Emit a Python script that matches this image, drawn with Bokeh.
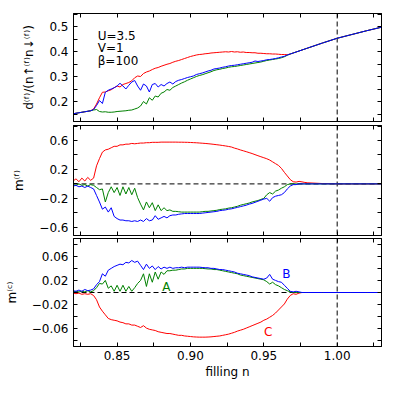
from bokeh.plotting import figure
from bokeh.layouts import column
from bokeh.models import Range1d, FixedTicker, Span, Label, LinearAxis, CustomJSTickFormatter
from bokeh.embed import file_html
from bokeh.resources import INLINE

filling = [0.820, 0.822, 0.824, 0.826, 0.828, 0.830, 0.832, 0.834, 0.836, 0.838,
           0.840, 0.842, 0.844, 0.846, 0.848, 0.850, 0.852, 0.854, 0.856, 0.858,
           0.860, 0.862, 0.864, 0.866, 0.868, 0.870, 0.872, 0.874, 0.876, 0.878,
           0.880, 0.882, 0.884, 0.886, 0.888, 0.890, 0.892, 0.894, 0.896, 0.898,
           0.900, 0.902, 0.904, 0.906, 0.908, 0.910, 0.912, 0.914, 0.916, 0.918,
           0.920, 0.922, 0.924, 0.926, 0.928, 0.930, 0.932, 0.934, 0.936, 0.938,
           0.940, 0.942, 0.944, 0.946, 0.948, 0.950, 0.952, 0.954, 0.956, 0.958,
           0.960, 0.962, 0.964, 0.966, 0.968, 0.970, 0.972, 0.974, 0.976, 0.978,
           0.980, 0.990, 1.000, 1.010, 1.020, 1.030]

# panel 1: d^(f) / (n_up n_down)
d_red = [0.151, 0.153, 0.155, 0.157, 0.159, 0.161, 0.163, 0.170, 0.190, 0.215,
         0.237, 0.238, 0.243, 0.247, 0.255, 0.262, 0.258, 0.268, 0.272, 0.276,
         0.283, 0.295, 0.302, 0.300, 0.312, 0.318, 0.322, 0.328, 0.333, 0.336,
         0.341, 0.345, 0.349, 0.352, 0.357, 0.361, 0.364, 0.368, 0.372, 0.376,
         0.380, 0.383, 0.386, 0.388, 0.389, 0.391, 0.392, 0.394, 0.395, 0.396,
         0.397, 0.398, 0.399, 0.398, 0.400, 0.398, 0.399, 0.397, 0.398, 0.396,
         0.396, 0.395, 0.395, 0.393, 0.393, 0.392, 0.391, 0.391, 0.390, 0.390,
         0.389, 0.388, 0.388, 0.387, 0.390, 0.394, 0.398, 0.402, 0.406, 0.410,
         0.414, 0.434, 0.453, 0.468, 0.483, 0.497]
d_blue = [0.151, 0.153, 0.155, 0.157, 0.159, 0.161, 0.163, 0.168, 0.184, 0.204,
          0.192, 0.237, 0.245, 0.250, 0.255, 0.262, 0.273, 0.262, 0.250, 0.265,
          0.278, 0.284, 0.262, 0.245, 0.270, 0.262, 0.238, 0.268, 0.272, 0.258,
          0.268, 0.262, 0.272, 0.278, 0.270, 0.280, 0.285, 0.288, 0.292, 0.296,
          0.299, 0.302, 0.308, 0.311, 0.314, 0.318, 0.322, 0.325, 0.330, 0.332,
          0.334, 0.337, 0.339, 0.342, 0.344, 0.345, 0.347, 0.349, 0.351, 0.353,
          0.355, 0.357, 0.362, 0.360, 0.362, 0.364, 0.367, 0.368, 0.370, 0.372,
          0.375, 0.378, 0.381, 0.386, 0.390, 0.394, 0.398, 0.402, 0.406, 0.410,
          0.414, 0.434, 0.453, 0.468, 0.483, 0.497]
d_green = [0.151, 0.153, 0.155, 0.157, 0.159, 0.161, 0.163, 0.166, 0.168, 0.160,
           0.158, 0.159, 0.157, 0.157, 0.158, 0.160, 0.161, 0.162, 0.163, 0.165,
           0.166, 0.170, 0.174, 0.182, 0.200, 0.190, 0.215, 0.205, 0.222, 0.218,
           0.233, 0.238, 0.248, 0.245, 0.256, 0.262, 0.268, 0.274, 0.279, 0.285,
           0.290, 0.295, 0.300, 0.304, 0.307, 0.311, 0.315, 0.319, 0.324, 0.327,
           0.329, 0.332, 0.334, 0.337, 0.339, 0.340, 0.342, 0.344, 0.346, 0.348,
           0.350, 0.352, 0.354, 0.356, 0.358, 0.361, 0.364, 0.366, 0.368, 0.370,
           0.372, 0.375, 0.379, 0.385, 0.390, 0.394, 0.398, 0.402, 0.406, 0.410,
           0.414, 0.434, 0.453, 0.468, 0.483, 0.497]

# panel 2: m^(f)
mf_red = [0.04, 0.07, 0.03, 0.08, 0.04, 0.09, 0.05, 0.08, 0.25, 0.35,
          0.44, 0.47, 0.48, 0.50, 0.52, 0.52, 0.54, 0.54, 0.55, 0.55,
          0.56, 0.555, 0.56, 0.565, 0.565, 0.57, 0.57, 0.575, 0.575, 0.575,
          0.578, 0.578, 0.578, 0.578, 0.578, 0.578, 0.577, 0.577, 0.576, 0.575,
          0.573, 0.571, 0.569, 0.566, 0.563, 0.560, 0.556, 0.552, 0.547, 0.542,
          0.537, 0.531, 0.525, 0.518, 0.510, 0.495, 0.484, 0.470, 0.458, 0.446,
          0.433, 0.420, 0.405, 0.390, 0.376, 0.362, 0.348, 0.330, 0.305, 0.280,
          0.255, 0.215, 0.160, 0.110, 0.060, 0.030, 0.025, 0.035, 0.028, 0.020,
          0.015, 0.005, 0.0, 0.0, 0.0, 0.0]
mf_blue = [-0.03, -0.02, -0.04, -0.03, -0.05, -0.03, -0.05, -0.07, -0.16, -0.25,
           -0.35, -0.32, -0.39, -0.33, -0.45, -0.48, -0.50, -0.50, -0.51, -0.51,
           -0.52, -0.51, -0.52, -0.50, -0.52, -0.48, -0.51, -0.50, -0.44, -0.49,
           -0.47, -0.45, -0.47, -0.44, -0.43, -0.43, -0.42, -0.415, -0.41, -0.41,
           -0.41, -0.41, -0.41, -0.41, -0.405, -0.40, -0.395, -0.39, -0.385, -0.38,
           -0.37, -0.365, -0.36, -0.35, -0.345, -0.335, -0.325, -0.315, -0.305, -0.295,
           -0.28, -0.27, -0.255, -0.24, -0.225, -0.21, -0.20, -0.24, -0.19, -0.17,
           -0.16, -0.15, -0.12, -0.07, -0.03, -0.01, -0.01, 0.0, 0.0, 0.0,
           0.0, 0.0, 0.0, 0.0, 0.0, 0.0]
mf_green = [-0.01, -0.02, 0.0, -0.02, -0.01, -0.03, -0.01, -0.02, -0.05, -0.08,
            -0.07, -0.25, -0.12, -0.04, -0.12, -0.05, -0.16, -0.04, -0.14, -0.05,
            -0.15, -0.06, -0.19, -0.28, -0.36, -0.25, -0.33, -0.26, -0.37, -0.29,
            -0.37, -0.33, -0.37, -0.36, -0.38, -0.38, -0.385, -0.39, -0.39, -0.39,
            -0.39, -0.39, -0.39, -0.39, -0.385, -0.38, -0.38, -0.375, -0.37, -0.365,
            -0.355, -0.35, -0.345, -0.335, -0.33, -0.32, -0.31, -0.295, -0.285, -0.275,
            -0.265, -0.25, -0.24, -0.23, -0.215, -0.20, -0.15, -0.12, -0.14, -0.10,
            -0.085, -0.06, -0.04, -0.01, 0.0, 0.0, 0.0, 0.0, 0.0, 0.0,
            0.0, 0.0, 0.0, 0.0, 0.0, 0.0]

# panel 3: m^(c)
mc_red = [-0.001, -0.002, -0.001, -0.003, -0.002, -0.003, -0.002, -0.005, -0.012, -0.024,
          -0.031, -0.037, -0.043, -0.045, -0.046, -0.047, -0.049, -0.050, -0.052, -0.052,
          -0.054, -0.054, -0.056, -0.058, -0.055, -0.059, -0.061, -0.062, -0.063, -0.065,
          -0.066, -0.067, -0.068, -0.068, -0.069, -0.070, -0.071, -0.071, -0.072, -0.0725,
          -0.073, -0.0735, -0.0738, -0.074, -0.074, -0.074, -0.0738, -0.0735, -0.073, -0.0725,
          -0.072, -0.071, -0.070, -0.069, -0.0675, -0.066, -0.064, -0.0625, -0.061, -0.059,
          -0.057, -0.055, -0.053, -0.051, -0.049, -0.046, -0.044, -0.041, -0.038, -0.034,
          -0.029, -0.024, -0.019, -0.011, -0.005, -0.002, -0.003, -0.001, 0.0, 0.0,
          0.0, 0.0, 0.0, 0.0, 0.0, 0.0]
mc_blue = [0.003, 0.002, 0.004, 0.002, 0.005, 0.003, 0.004, 0.006, 0.013, 0.018,
           0.031, 0.027, 0.037, 0.040, 0.043, 0.045, 0.047, 0.046, 0.050, 0.049,
           0.053, 0.050, 0.052, 0.045, 0.038, 0.047, 0.040, 0.044, 0.038, 0.043,
           0.039, 0.042, 0.040, 0.042, 0.040, 0.041, 0.041, 0.042, 0.041, 0.042,
           0.042, 0.042, 0.042, 0.042, 0.0415, 0.041, 0.041, 0.040, 0.040, 0.039,
           0.038, 0.038, 0.037, 0.036, 0.035, 0.034, 0.032, 0.031, 0.030, 0.029,
           0.028, 0.026, 0.025, 0.024, 0.023, 0.022, 0.024, 0.030, 0.022, 0.020,
           0.018, 0.017, 0.012, 0.007, 0.002, 0.001, 0.002, 0.001, 0.0, 0.0,
           0.0, 0.0, 0.0, 0.0, 0.0, 0.0]
mc_green = [0.001, 0.002, 0.001, 0.002, 0.001, 0.003, 0.001, 0.003, 0.008, 0.015,
            0.014, 0.020, 0.007, 0.011, 0.002, 0.012, 0.002, 0.012, 0.002, 0.010,
            0.002, 0.008, 0.015, 0.020, 0.031, 0.010, 0.031, 0.017, 0.034, 0.022,
            0.034, 0.030, 0.036, 0.036, 0.037, 0.037, 0.038, 0.039, 0.039, 0.040,
            0.040, 0.040, 0.040, 0.040, 0.040, 0.0395, 0.039, 0.039, 0.038, 0.038,
            0.037, 0.036, 0.035, 0.034, 0.033, 0.032, 0.031, 0.029, 0.028, 0.027,
            0.026, 0.025, 0.024, 0.023, 0.022, 0.021, 0.018, 0.014, 0.017, 0.013,
            0.011, 0.008, 0.005, 0.003, 0.001, 0.0, 0.0, 0.0, 0.0, 0.0,
            0.0, 0.0, 0.0, 0.0, 0.0, 0.0]

x_major = [0.85, 0.90, 0.95, 1.00]
x_minor = [0.825, 0.875, 0.925, 0.975, 1.025]
y1_major = [0.2, 0.3, 0.4, 0.5]
y1_minor = [0.15, 0.25, 0.35, 0.45, 0.55]
y2_major = [-0.6, -0.2, 0.2, 0.6]
y2_minor = [-0.4, 0.0, 0.4, 0.8]
y3_major = [-0.06, -0.02, 0.02, 0.06]
y3_minor = [-0.08, -0.04, 0.0, 0.04, 0.08]
params = ["U=3.5", "V=1", "β=100"]

FONT = "DejaVu Sans"
RED, GREEN, BLUE = "#ff0000", "#008000", "#0000ff"
X_RANGE = (0.8203, 1.0302)
LEFT, RIGHT, FRAME_W = 73, 6, 308


def fmt(decimals):
    return CustomJSTickFormatter(
        code="return tick.toFixed(%d).replace('-', '\u2212');" % decimals)


def style_axis(ax, major, minor, decimals=None):
    ax.ticker = FixedTicker(ticks=major, minor_ticks=minor)
    ax.major_tick_in = 4
    ax.major_tick_out = 0
    ax.minor_tick_in = 4
    ax.minor_tick_out = 0
    ax.axis_line_color = "black"
    ax.major_tick_line_color = "black"
    ax.minor_tick_line_color = "black"
    if decimals is None:
        ax.formatter = CustomJSTickFormatter(code="return '';")
        ax.major_label_text_font_size = "0px"
        ax.major_label_standoff = 0
    else:
        ax.formatter = fmt(decimals)
        ax.major_label_text_font = FONT
        ax.major_label_text_font_size = "12px"
        ax.major_label_text_color = "black"
        ax.major_label_standoff = 5
    ax.axis_label_text_font = FONT
    ax.axis_label_text_font_size = "12px"
    ax.axis_label_text_font_style = "normal"
    ax.axis_label_text_color = "black"


def panel(yr, ymaj, ymin, ydec, ylabel, fh, top, bottom, xlabels):
    p = figure(width=LEFT + FRAME_W + RIGHT, height=top + fh + bottom,
               x_range=Range1d(*X_RANGE), y_range=Range1d(*yr),
               output_backend="svg", toolbar_location=None,
               min_border_left=LEFT, min_border_right=RIGHT,
               min_border_top=top, min_border_bottom=bottom)
    p.grid.visible = False
    p.outline_line_color = "black"
    p.outline_line_width = 1
    p.background_fill_color = "white"
    p.border_fill_color = "white"
    style_axis(p.yaxis[0], ymaj, ymin, ydec)
    p.yaxis[0].axis_label = ylabel
    p.yaxis[0].axis_label_standoff = 10
    style_axis(p.xaxis[0], x_major, x_minor, 2 if xlabels else None)
    if xlabels:
        p.xaxis[0].major_label_standoff = 4
        p.xaxis[0].axis_label = "filling n"
        p.xaxis[0].axis_label_standoff = 2
    top_ax = LinearAxis()
    style_axis(top_ax, x_major, x_minor, None)
    p.add_layout(top_ax, "above")
    right_ax = LinearAxis()
    style_axis(right_ax, ymaj, ymin, None)
    p.add_layout(right_ax, "right")
    p.add_layout(Span(location=1.0, dimension="height", line_color="black",
                      line_width=1, line_dash="5 3", level="underlay"))
    return p


p1 = panel((0.12, 0.552), y1_major, y1_minor, 1,
           "d⁽ᶠ⁾/(n↑⁽ᶠ⁾n↓⁽ᶠ⁾)", 108, 13, 2, False)
p1.line(filling, d_red, line_color=RED, line_width=1)
p1.line(filling, d_green, line_color=GREEN, line_width=1)
p1.line(filling, d_blue, line_color=BLUE, line_width=1)
for txt, yv in zip(params, [0.461, 0.413, 0.362]):
    p1.add_layout(Label(x=0.8368, y=yv, text=txt, text_font=FONT,
                        text_font_size="12px", text_color="black",
                        text_align="left", text_baseline="alphabetic"))

p2 = panel((-0.714, 0.808), y2_major, y2_minor, 1,
           "m⁽ᶠ⁾", 110, 2, 1, False)
p2.add_layout(Span(location=0.0, dimension="width", line_color="black",
                   line_width=1, line_dash="5 3", level="underlay"))
p2.line(filling, mf_red, line_color=RED, line_width=1)
p2.line(filling, mf_green, line_color=GREEN, line_width=1)
p2.line(filling, mf_blue, line_color=BLUE, line_width=1)

p3 = panel((-0.0895, 0.0895), y3_major, y3_minor, 2,
           "m⁽ᶜ⁾", 108, 2, 38, True)
p3.add_layout(Span(location=0.0, dimension="width", line_color="black",
                   line_width=1, line_dash="5 3", level="underlay"))
p3.line(filling, mc_red, line_color=RED, line_width=1)
p3.line(filling, mc_green, line_color=GREEN, line_width=1)
p3.line(filling, mc_blue, line_color=BLUE, line_width=1)
for txt, xv, yv, col in [("A", 0.8808, 0.009, GREEN), ("B", 0.9625, 0.0313, BLUE),
                         ("C", 0.9502, -0.0656, RED)]:
    p3.add_layout(Label(x=xv, y=yv, text=txt, text_font=FONT,
                        text_font_size="12px", text_color=col,
                        text_align="left", text_baseline="alphabetic"))

layout = column(p1, p2, p3, spacing=0)
open("out.html", "w").write(file_html(layout, INLINE))
